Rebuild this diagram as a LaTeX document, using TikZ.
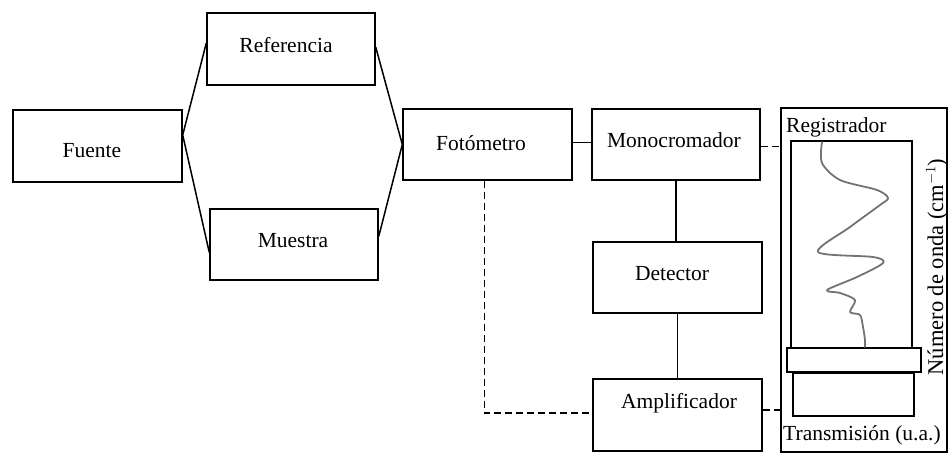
\documentclass[tikz,border=0pt]{standalone}
\usepackage{fontspec}
\setmainfont{Liberation Serif}
\usetikzlibrary{calc}
\begin{document}
\begin{tikzpicture}[x=1pt,y=-1pt,
  box/.style={draw, line width=1.4pt, inner sep=0pt, minimum width=#1, minimum height=72pt},
  box/.default=169pt,
  lbl/.style={anchor=base, inner sep=0pt, font=\fontsize{21.5}{25}\selectfont},
  conn/.style={line width=1.5pt},
  dconn/.style={line width=1.4pt, dash pattern=on 7pt off 4pt},
  thickbox/.style={draw, line width=2.8pt, inner sep=0pt},
  curve/.style={draw=black!55, line width=1.8pt, line join=round, line cap=round}]
\useasboundingbox (0,0) rectangle (950,455);
% boxes
\node[box] (fuente) at (97.5,146) {};
\node[box=168pt] (ref) at (291,49) {};
\node[box=168pt, minimum height=71pt] (muestra) at (294,244.5) {};
\node[box, minimum height=71pt] (foto) at (487.5,144.5) {};
\node[box=168pt, minimum height=71pt] (mono) at (676,144.5) {};
\node[box, minimum height=71pt] (det) at (677.5,277.5) {};
\node[box] (amp) at (677.5,415) {};
% recorder
\node[draw, line width=1.3pt, inner sep=0pt, minimum width=166pt, minimum height=344pt] (reg) at (864,280) {};
\node[draw, line width=1.4pt, inner sep=0pt, minimum width=121pt, minimum height=207pt] (chart) at (851.5,244.5) {};
\node[thickbox, minimum width=134pt, minimum height=24pt] (bar1) at (854,360) {};
\node[thickbox, minimum width=121pt, minimum height=43pt] (bar2) at (853.5,394.5) {};
% labels
\node[lbl] (tfuente) at (92,157) {Fuente};
\node[lbl] (tref) at (286,52) {Referencia};
\node[lbl] (tmuestra) at (293,247) {Muestra};
\node[lbl] (tfoto) at (481,150) {Fotómetro};
\node[lbl] (tmono) at (674,147) {Monocromador};
\node[lbl] (tdet) at (672,280) {Detector};
\node[lbl] (tamp) at (679,408) {Amplificador};
\node[lbl, anchor=base west] (treg) at (786,132) {Registrador};
\node[lbl, anchor=base west] (ttrans) at (783,440) {Transmisión (u.a.)};
\node[lbl, rotate=90, font=\fontsize{22.5}{26}\selectfont] (tnum) at (943,267) {Número de onda (cm$^{-1}$)};
% connectors
\coordinate (fr) at ([yshift=11pt]fuente.east);
\draw[conn] (fr) -- ([yshift=6pt]ref.west);
\draw[conn] (fr) -- ([yshift=-8pt]muestra.west);
\draw[conn] ([yshift=2pt]ref.east) -- (foto.west);
\draw[conn] ([yshift=8pt]muestra.east) -- (foto.west);
\draw[conn] ([yshift=2pt]foto.east) -- ([yshift=2pt]mono.east -| mono.west);
\draw[conn] (mono.south) -- (mono.south |- det.north);
\draw[conn] (det.south) -- (det.south |- amp.north);
\draw[dconn] ([xshift=-3pt]foto.south) |- ([yshift=2pt]amp.west);
\draw[dconn] ([yshift=-2pt]mono.east) -- ([yshift=-2pt]mono.east -| reg.west);
\draw[dconn] ([yshift=5pt]amp.east) -- ([yshift=5pt]amp.east -| reg.west);
% spectrum trace
\draw[curve] plot[smooth, tension=0.5] coordinates {
 (822,142) (822,163) (840,180) (877,190) (888,198) (880,205) (850,227) (818,252)
 (873,257) (883,263) (857,277) (827,290) (840,293) (855,300) (850,312) (860,315)
 (863,327) (865,340) (865,347)};
\end{tikzpicture}
\end{document}
